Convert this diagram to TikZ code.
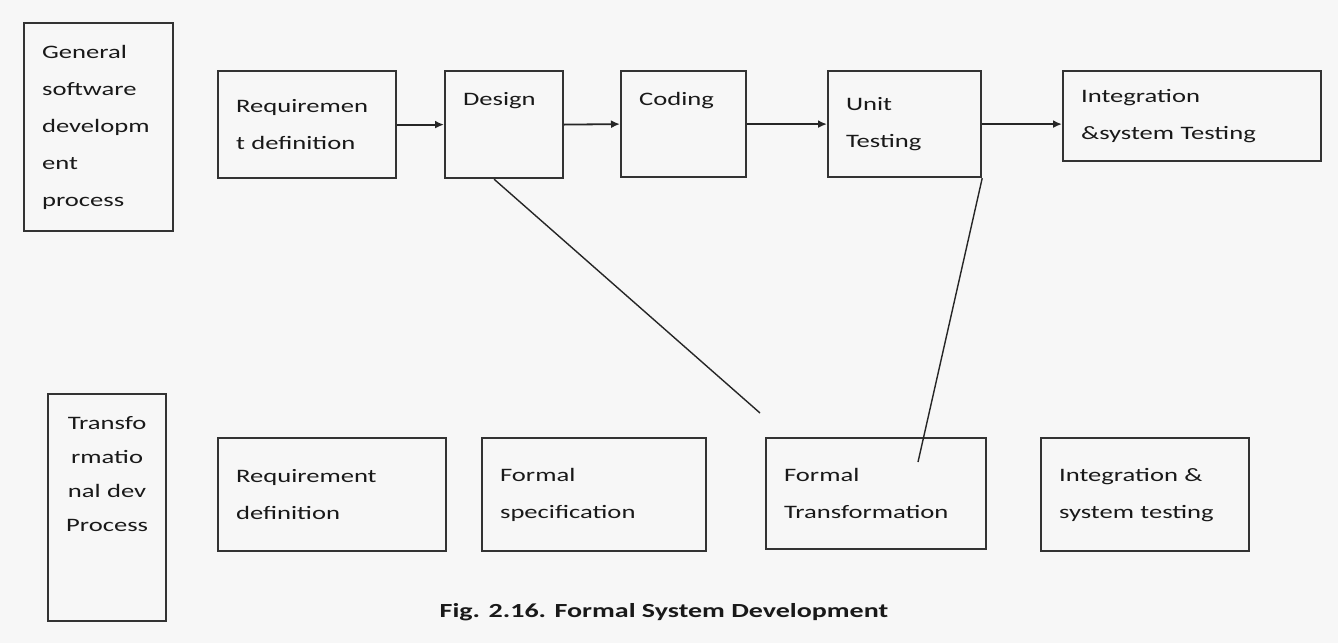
\documentclass[tikz,border=0pt]{standalone}
\usepackage{fontspec}
\setmainfont[FakeStretch=1.4]{Carlito}
\usetikzlibrary{arrows.meta}
\tikzstyle{every node}=[anchor=north west,inner sep=0pt]
\tikzstyle{stage}=[draw=black!80,line width=2.2pt,rectangle,inner xsep=18pt,align=left,text=black!90,font=\fontsize{19}{37}\selectfont]
\tikzstyle{flow}=[draw=black!85,line width=1.8pt,-{Latex[length=9pt,width=8pt]}]
\tikzstyle{link}=[draw=black!85,line width=1.4pt]

\begin{document}
\begin{tikzpicture}[x=1pt,y=-1pt]
    \fill[black!3] (0,0) rectangle (1338,643);
    \node[stage,minimum width=149,minimum height=208,text width=113] (general) at (23,22)
        {General\\software\\developm\\ent\\process};
    \node[stage,minimum width=178,minimum height=107,text width=142] (reqtop) at (217,70)
        {Requiremen\\t definition};
    \node[stage,minimum width=118,minimum height=107,text width=82] (design) at (444,70)
        {Design\\[14pt]~};
    \node[stage,minimum width=125,minimum height=106,text width=89] (coding) at (620,70)
        {Coding\\[14pt]~};
    \node[stage,minimum width=153,minimum height=106,text width=117] (unit) at (827,70)
        {Unit\\Testing};
    \node[stage,minimum width=258,minimum height=90,text width=222] (integ) at (1062,70)
        {Integration\\\&system Testing};
    \node[stage,minimum width=118,minimum height=227,text width=82,align=center,
        font=\fontsize{19}{34}\selectfont] (trans) at (47,393)
        {Transfo\\rmatio\\nal dev\\Process\\~\\~};
    \node[stage,minimum width=228,minimum height=113,text width=192] (reqbot) at (217,437)
        {Requirement\\definition};
    \node[stage,minimum width=224,minimum height=113,text width=188] (fspec) at (481,437)
        {Formal\\specification};
    \node[stage,minimum width=220,minimum height=111,text width=184] (ftrans) at (765,437)
        {Formal\\Transformation};
    \node[stage,minimum width=208,minimum height=113,text width=172] (itest) at (1040,437)
        {Integration \&\\system testing};
    \node[anchor=center,font=\bfseries\fontsize{20}{24}\selectfont,text=black!90] (caption) at (664,612)
        {Fig. 2.16. Formal System Development};

    \draw[flow] (reqtop.east) -- (design.west);
    \draw[flow] (design.east) -- (coding.west);
    \draw[flow] (coding.east) -- (unit.west);
    \draw[flow] (unit.east) -- (unit.east -| integ.west);

    \coordinate (ftcorner) at (760,413);
    \coordinate (ftinner) at (918,462);
    \draw[link] ([xshift=-10pt]design.south) -- (ftcorner);
    \draw[link] (unit.south east) -- (ftinner);
\end{tikzpicture}
\end{document}
